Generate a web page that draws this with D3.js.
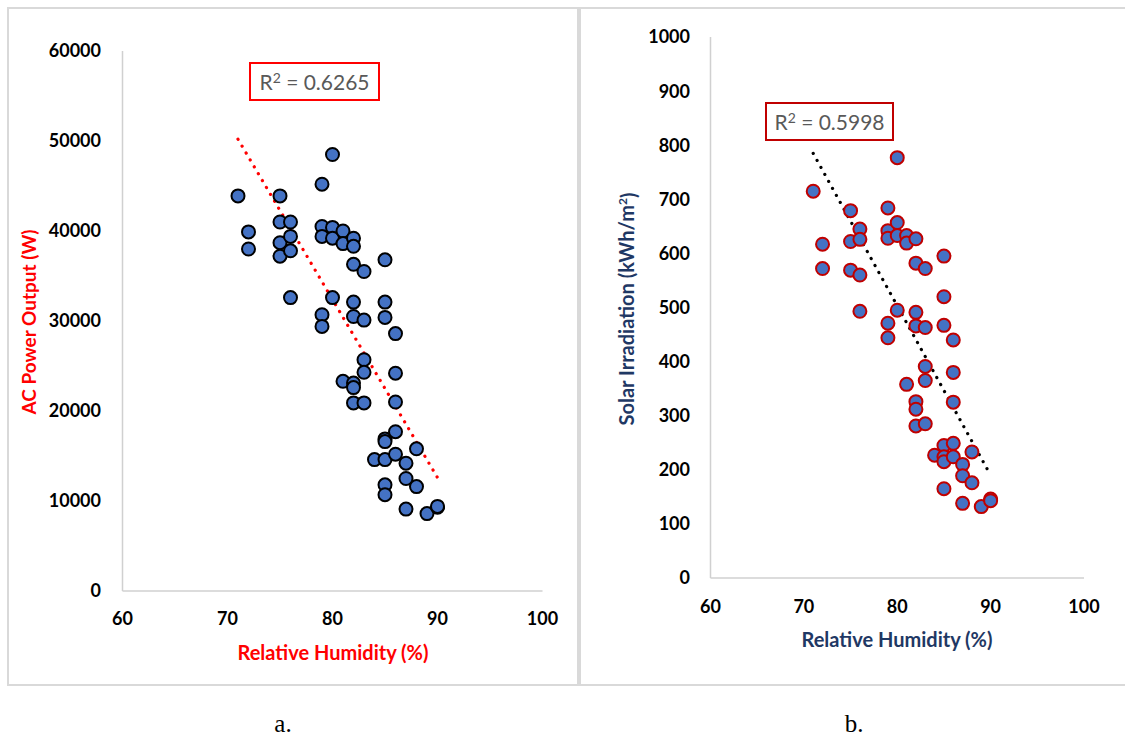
<!DOCTYPE html>
<html>
<head>
<meta charset="utf-8">
<script src="https://cdn.jsdelivr.net/npm/d3@7/dist/d3.min.js"></script>
<style>
  html, body { margin: 0; padding: 0; background: #fff; }
  svg { display: block; }
</style>
</head>
<body>
<svg id="chart" width="1125" height="744"></svg>
<script>
// ---------- DATA ----------
const xTicks = [60, 70, 80, 90, 100];
const yTicksA = [0, 10000, 20000, 30000, 40000, 50000, 60000];
const yTicksB = [0, 100, 200, 300, 400, 500, 600, 700, 800, 900, 1000];

// Panel a: Relative Humidity (%) vs AC Power Output (W)
const humidityA = [71,72,72,75,75,75,75,76,76,76,76,79,79,79,79,79,80,80,80,80,81,81,81,82,82,82,82,82,82,82,82,83,83,83,83,83,84,85,85,85,85,85,85,85,85,86,86,86,86,86,87,87,87,88,88,89,90,90];
const powerA    = [43900,39900,38000,43900,41000,38700,37200,41000,39400,37800,32600,45200,40500,39400,30700,29400,48500,40400,39200,32600,40000,38600,23300,39200,38300,36300,32100,30500,23100,22600,20900,35500,30100,25700,24300,20900,14600,36800,32100,30400,16900,16600,14600,11800,10700,28600,24200,21000,17700,15200,14200,12500,9100,15800,11600,8600,9300,9400];
const trendA = { x: [71, 90], y: [50200, 12600], r2: "0.6265" };

// Panel b: Relative Humidity (%) vs Solar Irradiation (kWh/m²)
const humidityB = [71,72,72,75,75,75,76,76,76,76,79,79,79,79,79,80,80,80,80,81,81,81,82,82,82,82,82,82,82,83,83,83,83,83,84,85,85,85,85,85,85,85,86,86,86,86,86,87,87,87,88,88,89,90,90];
const irradB    = [715,617,572,679,622,569,645,626,560,493,684,642,628,471,444,777,657,633,495,633,619,358,627,582,491,466,326,312,281,572,463,391,365,285,227,595,520,467,245,224,215,165,440,380,325,249,224,210,189,138,233,176,132,146,143];
const trendB = { x: [71, 90], y: [785, 190], r2: "0.5998" };

// ---------- DRAW ----------
const svg = d3.select("#chart");
const boxColor = "#D9D9D9";

// panel frames
svg.append("rect").attr("x", 8).attr("y", 8).attr("width", 571).attr("height", 677)
  .attr("fill", "none").attr("stroke", boxColor).attr("stroke-width", 2);
svg.append("line").attr("x1", 579).attr("x2", 1125).attr("y1", 8).attr("y2", 8)
  .attr("stroke", boxColor).attr("stroke-width", 2);
svg.append("line").attr("x1", 579).attr("x2", 1125).attr("y1", 685).attr("y2", 685)
  .attr("stroke", boxColor).attr("stroke-width", 2);
svg.append("line").attr("x1", 579).attr("x2", 579).attr("y1", 7).attr("y2", 686)
  .attr("stroke", boxColor).attr("stroke-width", 4);

function drawPanel(cfg) {
  const x = d3.scaleLinear().domain([60, 100]).range([cfg.left, cfg.right]);
  const y = d3.scaleLinear().domain(cfg.yDomain).range([cfg.bottom, cfg.top]);
  const g = svg.append("g");

  // axes lines
  g.append("line").attr("x1", cfg.left).attr("x2", cfg.left).attr("y1", cfg.top).attr("y2", cfg.bottom)
    .attr("stroke", "#D0D0D0").attr("stroke-width", 1.5);
  g.append("line").attr("x1", cfg.left).attr("x2", cfg.right).attr("y1", cfg.bottom).attr("y2", cfg.bottom)
    .attr("stroke", "#D0D0D0").attr("stroke-width", 1.5);

  const tickFont = "Lato, 'Open Sans', sans-serif";
  // y tick labels
  g.selectAll(".ylab").data(cfg.yTicks).enter().append("text")
    .attr("x", cfg.yLabelRight).attr("y", d => y(d))
    .attr("dy", "0.36em").attr("text-anchor", "end")
    .attr("font-family", tickFont).attr("font-weight", "bold").attr("font-size", 18)
    .attr("fill", "#000").text(d => d);
  // x tick labels
  g.selectAll(".xlab").data(xTicks).enter().append("text")
    .attr("x", d => x(d)).attr("y", cfg.bottom + cfg.xLabelOffset)
    .attr("dy", "0.36em").attr("text-anchor", "middle")
    .attr("font-family", tickFont).attr("font-weight", "bold").attr("font-size", 18)
    .attr("fill", "#000").text(d => d);

  // axis titles
  g.append("text").attr("x", cfg.xTitleX).attr("y", cfg.xTitleY).attr("dy", "0.36em")
    .attr("text-anchor", "middle").attr("font-family", tickFont).attr("font-weight", "bold")
    .attr("font-size", 20).attr("fill", cfg.titleColor).text("Relative Humidity (%)");
  const yt = g.append("text")
    .attr("transform", `translate(${cfg.yTitleX},${cfg.yTitleY}) rotate(-90)`)
    .attr("dy", "0.36em").attr("text-anchor", "middle").attr("font-family", tickFont)
    .attr("font-weight", "bold").attr("font-size", cfg.yTitleSize).attr("fill", cfg.titleColor);
  cfg.yTitleParts.forEach(p => {
    const ts = yt.append("tspan").text(p.t);
    if (p.sup) ts.attr("font-size", 12).attr("dy", "-0.6em");
    if (p.after) ts.attr("dy", "0.45em");
  });

  // trendline
  const tl = cfg.trend.x.map((v, i) => [v, cfg.trend.y[i]]);
  g.append("path").datum(tl)
    .attr("d", d3.line().x(d => x(d[0])).y(d => y(d[1])))
    .attr("fill", "none").attr("stroke", cfg.trendColor).attr("stroke-width", 3.2)
    .attr("stroke-linecap", "round").attr("stroke-dasharray", "0.1 7.9");

  // points
  const pts = cfg.xs.map((v, i) => [v, cfg.ys[i]]);
  g.selectAll(".pt").data(pts).enter().append("circle")
    .attr("cx", d => x(d[0])).attr("cy", d => y(d[1])).attr("r", 6.5)
    .attr("fill", "#4472C4").attr("stroke", cfg.pointStroke).attr("stroke-width", 2);

  // R² box
  const bx = g.append("g");
  bx.append("rect").attr("x", cfg.boxX).attr("y", cfg.boxY).attr("width", cfg.boxW).attr("height", 37)
    .attr("fill", "#fff").attr("stroke", cfg.boxStroke).attr("stroke-width", 2);
  const rt = bx.append("text").attr("x", cfg.boxX + cfg.boxW / 2).attr("y", cfg.boxY + 26.5)
    .attr("text-anchor", "middle")
    .attr("font-family", tickFont).attr("font-size", 21).attr("fill", "#595959");
  rt.append("tspan").text("R");
  rt.append("tspan").attr("font-size", 14).attr("dy", -7).text("2");
  rt.append("tspan").attr("dy", 7).text(" = " + cfg.trend.r2);

  // caption
  svg.append("text").attr("x", cfg.capX).attr("y", 732).attr("text-anchor", "middle")
    .attr("font-family", "'Liberation Serif', 'Times New Roman', serif").attr("font-size", 25)
    .attr("fill", "#000").text(cfg.caption);
}

drawPanel({
  left: 122.5, right: 542.5, top: 51, bottom: 591,
  yDomain: [0, 60000], yTicks: yTicksA, yLabelRight: 101, xLabelOffset: 28,
  xTitleX: 333, xTitleY: 653, yTitleX: 29, yTitleY: 322, yTitleSize: 19,
  titleColor: "#FF0000",
  yTitleParts: [{ t: "AC Power Output (W)" }],
  trend: trendA, trendColor: "#FF0000",
  xs: humidityA, ys: powerA, pointStroke: "#000",
  boxX: 250, boxY: 63, boxW: 129, boxStroke: "#FF0000",
  capX: 283, caption: "a."
});

drawPanel({
  left: 710.5, right: 1084, top: 37, bottom: 578,
  yDomain: [0, 1000], yTicks: yTicksB, yLabelRight: 690, xLabelOffset: 29,
  xTitleX: 897, xTitleY: 640, yTitleX: 627, yTitleY: 309, yTitleSize: 20,
  titleColor: "#1F3864",
  yTitleParts: [{ t: "Solar Irradiation (kWh/m" }, { t: "2", sup: true }, { t: ")", after: true }],
  trend: trendB, trendColor: "#000",
  xs: humidityB, ys: irradB, pointStroke: "#C00000",
  boxX: 766, boxY: 103, boxW: 127, boxStroke: "#C00000",
  capX: 854, caption: "b."
});
</script>
</body>
</html>
